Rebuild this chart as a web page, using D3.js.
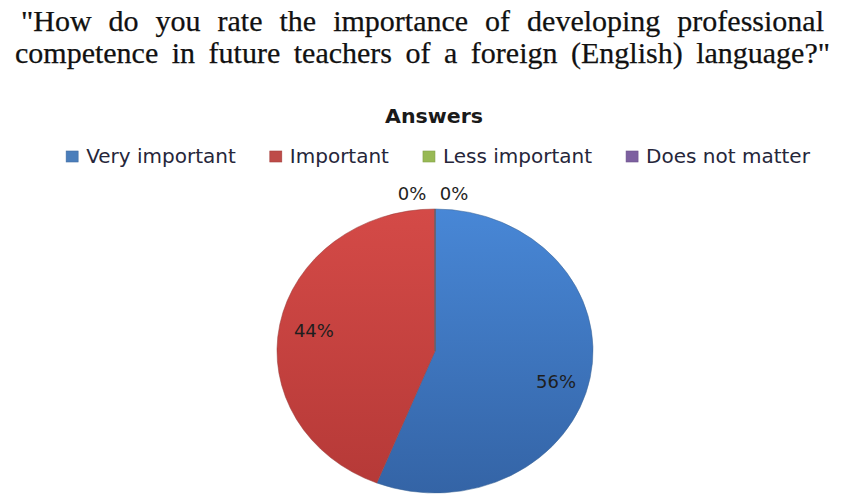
<!DOCTYPE html>
<html><head><meta charset="utf-8">
<script src="https://cdn.jsdelivr.net/npm/d3@7"></script>
<style>body{margin:0;background:#fff}svg{display:block}</style>
</head><body><svg id="c" width="843" height="495"></svg>
<script>
const titleLines = ['"How do you rate the importance of developing professional',
                    'competence in future teachers of a foreign (English) language?"'];
const chartTitle = "Answers";
const categories = ["Very important", "Important", "Less important", "Does not matter"];
const values = [56, 44, 0, 0];
const colors = ["#4a7ebb", "#be4b48", "#98b954", "#7d60a0"];
const gradTop = ["#4887d6", "#d44a47", "#a2c35c", "#8a6cb0"];
const gradBot = ["#3464a6", "#b53937", "#86a546", "#6a4f8c"];

const svg = d3.select("#c");

// Title (justified serif lines)
const titleSpec = [{x0: 21, x1: 824, y: 31}, {x0: 15, x1: 830, y: 63}];
titleLines.forEach((line, i) => {
  const s = titleSpec[i];
  const t = svg.append("text")
    .attr("x", s.x0).attr("y", s.y)
    .attr("font-family", "'Liberation Serif', 'Times New Roman', serif")
    .attr("font-size", 30).attr("fill", "#111")
    .attr("stroke", "#111").attr("stroke-width", 0.25)
    .text(line);
  const nat = t.node().getComputedTextLength();
  const gaps = line.split(" ").length - 1;
  let ws = ((s.x1 - s.x0) - nat) / gaps;
  if (ws < -3) {
    t.attr("textLength", s.x1 - s.x0).attr("lengthAdjust", "spacingAndGlyphs");
  } else {
    t.attr("word-spacing", ws);
  }
});

// Chart title
svg.append("text")
  .attr("x", 434).attr("y", 123)
  .attr("text-anchor", "middle")
  .attr("font-family", "'DejaVu Sans', sans-serif")
  .attr("font-weight", "bold").attr("font-size", 20)
  .attr("textLength", 98).attr("lengthAdjust", "spacingAndGlyphs")
  .attr("fill", "#1a1a1a")
  .text(chartTitle);

// Legend
const legendFont = 20, sq = 12, sqGap = 8, itemGap = 34;
const lg = svg.append("g");
let lx = 0;
categories.forEach((c, i) => {
  const g = lg.append("g");
  g.append("rect").attr("x", lx).attr("y", 151).attr("width", sq).attr("height", sq - 1)
    .attr("fill", colors[i]).attr("stroke", d3.color(colors[i]).darker(0.4)).attr("stroke-width", 0.6);
  const t = g.append("text").attr("x", lx + sq + sqGap).attr("y", 163)
    .attr("font-family", "'DejaVu Sans', sans-serif").attr("font-size", legendFont)
    .attr("fill", "#26263a").text(c);
  lx += sq + sqGap + t.node().getComputedTextLength() + itemGap;
});
const lw = lx - itemGap;
lg.attr("transform", `translate(${438 - lw / 2},0)`);

// Pie
const cx = 435, cy = 351, rx = 158, ry = 142;
const pie = d3.pie().sort(null).value(d => d)(values);
const arc = d3.arc().innerRadius(0).outerRadius(rx);
const defs = svg.append("defs");
colors.forEach((c, i) => {
  const gr = defs.append("linearGradient").attr("id", "g" + i)
    .attr("gradientUnits", "userSpaceOnUse")
    .attr("x1", 0).attr("y1", -rx).attr("x2", 0).attr("y2", rx);
  gr.append("stop").attr("offset", 0).attr("stop-color", gradTop[i]);
  gr.append("stop").attr("offset", 1).attr("stop-color", gradBot[i]);
});
const pg = svg.append("g").attr("transform", `translate(${cx},${cy}) scale(1,${ry / rx})`);
pg.selectAll("path").data(pie).join("path")
  .attr("d", arc)
  .attr("fill", (d, i) => `url(#g${i})`)
  .attr("stroke", (d, i) => d3.color(colors[i]).darker(0.6))
  .attr("stroke-width", 0.8)
  .attr("stroke-opacity", 0.7);

// Data labels
const inLabel = d3.arc().innerRadius(rx * 0.78).outerRadius(rx * 0.78);
const fmt = v => Math.round(v) + "%";
const total = d3.sum(values);
let zeroIdx = 0;
const zeroCount = values.filter(v => v === 0).length;
pie.forEach((d, i) => {
  let x, y;
  if (d.value > 0) {
    const c = inLabel.centroid(d);
    x = cx + c[0]; y = cy + c[1] * ry / rx;
    // Excel "best fit": large right-hand slice label sits a little lower
    if (c[0] > 0) y += 10;
  } else {
    const a = d.startAngle;
    const r = ry + 16;
    x = cx + Math.sin(a) * r + (zeroIdx - (zeroCount - 1) / 2) * 42 - 2;
    y = cy - Math.cos(a) * r;
    zeroIdx++;
  }
  svg.append("text").attr("x", x).attr("y", y)
    .attr("text-anchor", "middle").attr("dominant-baseline", "central")
    .attr("font-family", "'DejaVu Sans', sans-serif").attr("font-size", 18)
    .attr("fill", "#1e1e1e")
    .text(fmt(d.value / total * 100));
});
</script></body></html>
